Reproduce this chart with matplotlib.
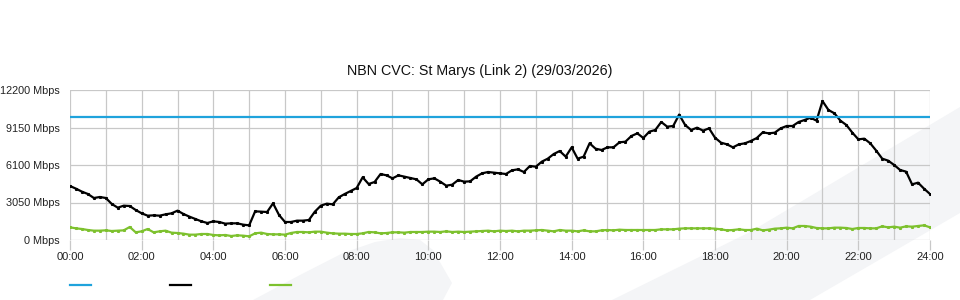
import numpy as np
import matplotlib
matplotlib.use("Agg")
import matplotlib.pyplot as plt
from matplotlib.patches import Polygon
from matplotlib.lines import Line2D

plt.rcParams['font.family'] = ['Liberation Sans', 'DejaVu Sans']

# 10 minute samples, 00:00 .. 24:00
minutes = np.arange(0, 24 * 60 + 1, 10)
hours = minutes / 60.0

capacity = 10000  # Mbps

traffic_in = [
    4392, 4175, 3931, 3741, 3416, 3497, 3416, 2928, 2630, 2792, 2765, 2440,
    2169, 1979, 2006, 1979, 2087, 2169, 2386, 2115, 1898, 1708, 1518, 1383,
    1518, 1464, 1328, 1356, 1356, 1247, 1193, 2331, 2304, 2277, 2982, 2033,
    1464, 1464, 1573, 1573, 1627, 2304, 2792, 2955, 2901, 3470, 3741, 3985,
    4229, 5097, 4554, 4717, 5368, 5259, 5015, 5259, 5151, 5042, 4934, 4527,
    4934, 5015, 4744, 4419, 4500, 4880, 4744, 4771, 5151, 5422, 5530, 5476,
    5422, 5368, 5666, 5747, 5530, 6018, 5964, 6371, 6615, 6994, 7238, 6778,
    7537, 6615, 6778, 7862, 7428, 7320, 7537, 7537, 7943, 7997, 8458, 8675,
    8296, 8811, 8946, 9597, 9217, 9272, 10200, 9353, 8946, 9136, 8892, 9082,
    8323, 7916, 7781, 7537, 7781, 7862, 8052, 8296, 8757, 8675, 8729, 9082,
    9272, 9272, 9597, 9760, 9949, 9705, 11300, 10573, 10302, 9705, 9353, 8729,
    8187, 8241, 7862, 7265, 6615, 6452, 6100, 5693, 5558, 4527, 4663, 4175,
    3741,
]

traffic_out = [
    1030, 949, 895, 813, 759, 759, 786, 732, 759, 786, 1057, 624,
    705, 895, 624, 705, 759, 596, 569, 515, 434, 434, 488, 488,
    407, 380, 407, 325, 380, 352, 298, 542, 596, 488, 461, 461,
    434, 569, 651, 651, 624, 678, 678, 596, 542, 515, 515, 488,
    488, 542, 651, 624, 542, 569, 624, 624, 596, 651, 651, 651,
    678, 678, 651, 705, 651, 678, 651, 678, 705, 732, 759, 705,
    759, 732, 759, 705, 759, 759, 786, 813, 759, 705, 813, 759,
    759, 705, 786, 705, 705, 786, 813, 786, 840, 813, 813, 813,
    813, 813, 813, 868, 868, 868, 922, 949, 949, 949, 949, 949,
    922, 868, 786, 813, 868, 813, 813, 922, 786, 840, 922, 949,
    1003, 949, 1139, 1139, 1084, 976, 949, 949, 1003, 1003, 976, 895,
    976, 976, 949, 949, 1111, 1030, 1084, 1003, 1111, 1084, 1139, 1193,
    1030,
]

yticks = [0, 3050, 6100, 9150, 12200]
xticks = list(range(0, 25, 2))

fig = plt.figure(figsize=(9.6, 3.0), dpi=100)

# faint watermark shapes behind the chart
W, H = 960.0, 300.0
hump = [(253, 300), (300, 275), (343, 253), (375, 242), (400, 238), (420, 240),
        (433, 250), (452, 283), (443, 300)]
band = [(612, 300), (750, 232), (960, 107), (960, 213), (810, 300)]
for shape in (hump, band):
    pts = [(x / W, 1 - y / H) for x, y in shape]
    fig.patches.append(Polygon(pts, closed=True, transform=fig.transFigure,
                               facecolor='#f4f5f7', edgecolor='none', zorder=-5))

ax = fig.add_axes([70 / W, 60 / H, 860 / W, 150 / H], zorder=2)
ax.patch.set_alpha(0)

ax.plot(hours, traffic_in, color='black', lw=1.6, marker='s', ms=1.2, zorder=4)
ax.plot(hours, traffic_out, color='#7dc12e', lw=1.6, marker='s', ms=1.2, zorder=4)
ax.axhline(capacity, color='#1fa3dc', lw=1.6, zorder=5)

ax.set_xlim(0, 24)
ax.set_ylim(0, 12200)
ax.set_xticks(xticks)
ax.set_xticklabels([f"{h:02d}:00" for h in xticks])
ax.set_xticks(range(0, 25), minor=True)
ax.set_yticks(yticks)
ax.set_yticklabels([f"{v} Mbps" for v in yticks])

ax.grid(True, which='both', color='#c8c8c8', lw=0.9, zorder=1)
for s in ax.spines.values():
    s.set_visible(False)
ax.tick_params(axis='x', which='major', length=7.2, width=0.9, color='#c8c8c8',
               pad=1.5, labelsize=8, labelcolor='#222222')
ax.tick_params(axis='x', which='minor', length=0)
ax.tick_params(axis='y', length=0, pad=7.2, labelsize=7.8, labelcolor='#222222')
for lbl in ax.get_yticklabels():
    lbl.set_y(lbl.get_position()[1])
    lbl.set_va('center_baseline')

fig.text(0.5, 1 - 71 / H, "NBN CVC: St Marys (Link 2) (29/03/2026)",
         ha='center', va='center', fontsize=10.3, color='#111111')

# legend keys without labels
for x0, c in ((70, '#1fa3dc'), (170, 'black'), (270, '#7dc12e')):
    fig.add_artist(Line2D([x0 / W, (x0 + 21) / W], [1 - 285 / H] * 2,
                          transform=fig.transFigure, color=c, lw=1.6))

fig.savefig('out.png', dpi=100)
